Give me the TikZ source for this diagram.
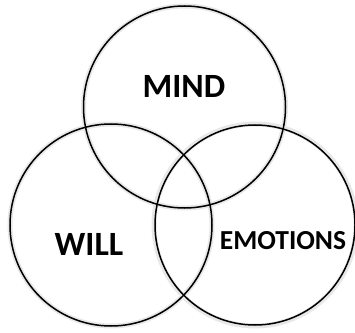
\documentclass[tikz,border=0pt]{standalone}
\usepackage{fontspec}
\setmainfont{Carlito}
\usepackage{tikz}
\usetikzlibrary{positioning}

\begin{document}
\begin{tikzpicture}[
  x=1pt, y=1pt,
  ring/.style={draw, circle, line width=1.5pt, minimum size=202pt, inner sep=0pt},
  halo/.style={draw=black!9, circle, line width=5pt, minimum size=202pt, inner sep=0pt},
  word/.style={font=\bfseries\fontsize{34}{34}\selectfont, inner sep=0pt}
]
\useasboundingbox (0,0) rectangle (355,332);
% soft shadow behind the rings
\node[halo] at (184.5,225) {};
\node[halo] at (111,107) {};
\node[halo] at (255,107) {};
% the three rings
\node[ring] (mind) at (184.5,225) {};
\node[ring] (will) at (111,107) {};
\node[ring, minimum size=200pt] (emotions) at (255,107) {};
% labels
\node[word] (mindtext) at (184,246) {MIND};
\node[word] (willtext) at (89,88) {WILL};
\node[word, font=\bfseries\fontsize{27.5}{27.5}\selectfont] (emotionstext) at (283,91) {EMOTIONS};
\end{tikzpicture}
\end{document}
